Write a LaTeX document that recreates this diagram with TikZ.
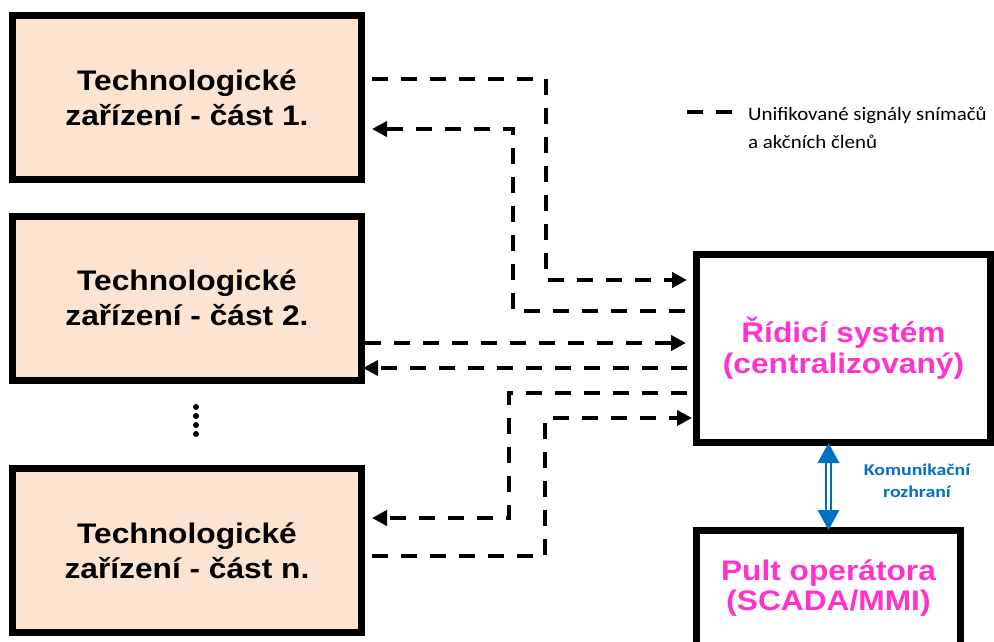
\documentclass[tikz,border=0pt]{standalone}
\usepackage{fontspec}
\setmainfont{Liberation Sans}
\newfontfamily\boxfont[FakeStretch=1.12]{Liberation Sans}
\newfontfamily\calfont[FakeStretch=1.1]{Carlito}
\newfontfamily\calbfont[FakeStretch=1.2]{Carlito}
\usetikzlibrary{arrows.meta,calc}
\definecolor{peach}{HTML}{FCE4D0}
\definecolor{mag}{HTML}{FF33CC}
\definecolor{commblue}{HTML}{0070C0}
\begin{document}
\begin{tikzpicture}[x=1pt,y=-1pt,
 techbox/.style={draw=black, line width=7pt, fill=peach, minimum width=349pt, minimum height=164pt, inner sep=0pt, align=center, font=\boxfont\bfseries\fontsize{28.3}{35}\selectfont},
 ctrlbox/.style={draw=black, line width=7pt, fill=white, inner sep=0pt, align=center, text=mag, font=\boxfont\bfseries\fontsize{28.3}{31}\selectfont},
 sig/.style={line width=4.5pt, dash pattern=on 16pt off 13pt},
 sigarrow/.style={sig, -{Triangle[length=15pt,width=15pt]}},
 commline/.style={draw=commblue, line width=2.4pt, double=white, double distance=2.2pt},
]
\useasboundingbox (0,0) rectangle (994,641);

\node[techbox] (t1) at (187,97.5) {Technologické\\zařízení - část 1.};
\node[techbox] (t2) at (187,298) {Technologické\\zařízení - část 2.};
\node[techbox] (tn) at (187,550.5) {Technologické\\zařízení - část n.};
\node[ctrlbox, minimum width=294pt, minimum height=188pt] (rs) at (843.5,348.5) {Řídicí systém\\(centralizovaný)};
\node[ctrlbox, minimum width=264pt, minimum height=115.5pt, font=\boxfont\bfseries\fontsize{28.3}{30}\selectfont] (po) at (828.5,588.25) {Pult operátora\\(SCADA/MMI)};

\foreach \yy in {407,416,425,434} \fill (196,\yy) circle (3pt);

% dashed signal connectors
\draw[sigarrow] ($(t1.east)+(7,-18.5)$) -| (546,280) -- ($(rs.west)+(-6,-68.5)$);
\draw[sigarrow] ($(rs.west)+(-8,-37.5)$) -| (513,129) -- ($(t1.east)+(7,31.5)$);
\draw[sigarrow] ($(t2.east)+(0,45)$) -- ($(rs.west)+(-7,-5.5)$);
\draw[sigarrow] ($(rs.west)+(-6,19.5)$) -- ($(t2.east)+(-2,70)$);
\draw[sigarrow] ($(rs.west)+(-6,44.5)$) -| (509,518) -- ($(tn.east)+(7,-32.5)$);
\draw[sigarrow] ($(tn.east)+(7,5.5)$) -| (545,418) -- ($(rs.west)+(-1,69.5)$);

% legend
\coordinate (la) at (687,112);
\coordinate (lb) at (732,112);
\draw[sig] (la) -- (lb);
\node[anchor=west, align=left, inner sep=0pt, font=\calfont\fontsize{19}{27.5}\selectfont] (leg) at (748,128) {Unifikované signály snímačů\\a akčních členů};

% communication interface
\coordinate (ct) at ($(po.north |- rs.south)+(0,-3)$);
\coordinate (cb) at ($(po.north)+(0,3)$);
\draw[commline] ($(ct)+(0,18)$) -- ($(cb)+(0,-18)$);
\fill[commblue] (ct) -- ++(-11,20) -- ++(22,0) -- cycle;
\fill[commblue] (cb) -- ++(-11,-20) -- ++(22,0) -- cycle;
\node[align=center, inner sep=0pt, text=commblue, font=\calbfont\bfseries\fontsize{16.5}{22}\selectfont] (ki) at (917,481) {Komunikační\\rozhraní};
\end{tikzpicture}
\end{document}
